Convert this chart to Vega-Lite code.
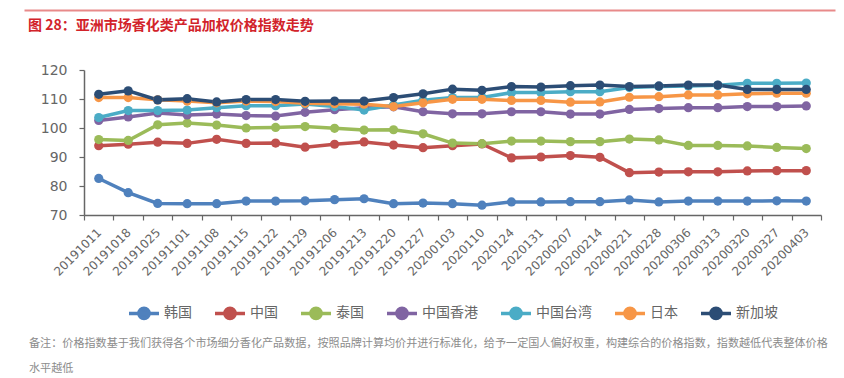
{
  "$schema": "https://vega.github.io/schema/vega-lite/v6.json",
  "background": "white",
  "autosize": {"type": "pad"},
  "padding": {"left": 28, "top": 10, "right": 5, "bottom": 3},
  "spacing": 30,
  "resolve": {"scale": {"color": "independent", "y": "independent", "x": "independent"}, "legend": {"color": "independent"}},
  "vconcat": [
    {
      "width": 751,
      "height": 1,
      "data": {"values": [{"k": 0.5}]},
      "mark": {"type": "point", "opacity": 0, "size": 0},
      "encoding": {
        "x": {
          "field": "k",
          "type": "quantitative",
          "scale": {"domain": [0, 1], "range": [-60, 751]},
          "axis": {"orient": "top", "domainColor": "#E88A8A", "domainWidth": 2, "ticks": false, "labels": false, "grid": false, "title": null}
        }
      },
      "title": {
        "text": "图 28：亚洲市场香化类产品加权价格指数走势",
        "orient": "bottom",
        "anchor": "start",
        "frame": "group",
        "dx": -56,
        "offset": 8,
        "font": "Noto Sans CJK SC",
        "fontSize": 14,
        "fontWeight": "bold",
        "color": "#D2232A"
      }
    },
    {
      "width": 737,
      "height": 145,
      "title": {
        "text": ["备注：价格指数基于我们获得各个市场细分香化产品数据，按照品牌计算均价并进行标准化，给予一定国人偏好权重，构建综合的价格指数，指数越低代表整体价格", "水平越低"],
        "orient": "bottom",
        "anchor": "start",
        "frame": "group",
        "dx": -55,
        "offset": 12,
        "font": "Noto Sans CJK SC",
        "fontSize": 11.1,
        "fontWeight": "normal",
        "color": "#8C8C8C",
        "lineHeight": 25
      },
      "data": {
        "values": [
          {"date": "20191011", "s": "韩国", "v": 82.6}, {"date": "20191018", "s": "韩国", "v": 77.7}, {"date": "20191025", "s": "韩国", "v": 74.0}, {"date": "20191101", "s": "韩国", "v": 73.9}, {"date": "20191108", "s": "韩国", "v": 73.9}, {"date": "20191115", "s": "韩国", "v": 74.8}, {"date": "20191122", "s": "韩国", "v": 74.8}, {"date": "20191129", "s": "韩国", "v": 74.9}, {"date": "20191206", "s": "韩国", "v": 75.3}, {"date": "20191213", "s": "韩国", "v": 75.6}, {"date": "20191220", "s": "韩国", "v": 73.9}, {"date": "20191227", "s": "韩国", "v": 74.1}, {"date": "20200103", "s": "韩国", "v": 73.9}, {"date": "2020110", "s": "韩国", "v": 73.4}, {"date": "2020124", "s": "韩国", "v": 74.5}, {"date": "2020131", "s": "韩国", "v": 74.5}, {"date": "20200207", "s": "韩国", "v": 74.6}, {"date": "20200214", "s": "韩国", "v": 74.6}, {"date": "20200221", "s": "韩国", "v": 75.2}, {"date": "20200228", "s": "韩国", "v": 74.5}, {"date": "20200306", "s": "韩国", "v": 74.8}, {"date": "20200313", "s": "韩国", "v": 74.8}, {"date": "20200320", "s": "韩国", "v": 74.8}, {"date": "20200327", "s": "韩国", "v": 74.9}, {"date": "20200403", "s": "韩国", "v": 74.8},
          {"date": "20191011", "s": "中国", "v": 93.9}, {"date": "20191018", "s": "中国", "v": 94.4}, {"date": "20191025", "s": "中国", "v": 95.1}, {"date": "20191101", "s": "中国", "v": 94.7}, {"date": "20191108", "s": "中国", "v": 96.1}, {"date": "20191115", "s": "中国", "v": 94.7}, {"date": "20191122", "s": "中国", "v": 94.8}, {"date": "20191129", "s": "中国", "v": 93.4}, {"date": "20191206", "s": "中国", "v": 94.4}, {"date": "20191213", "s": "中国", "v": 95.2}, {"date": "20191220", "s": "中国", "v": 94.1}, {"date": "20191227", "s": "中国", "v": 93.2}, {"date": "20200103", "s": "中国", "v": 93.9}, {"date": "2020110", "s": "中国", "v": 94.5}, {"date": "2020124", "s": "中国", "v": 89.7}, {"date": "2020131", "s": "中国", "v": 90.0}, {"date": "20200207", "s": "中国", "v": 90.5}, {"date": "20200214", "s": "中国", "v": 89.9}, {"date": "20200221", "s": "中国", "v": 84.6}, {"date": "20200228", "s": "中国", "v": 84.8}, {"date": "20200306", "s": "中国", "v": 84.9}, {"date": "20200313", "s": "中国", "v": 84.9}, {"date": "20200320", "s": "中国", "v": 85.2}, {"date": "20200327", "s": "中国", "v": 85.3}, {"date": "20200403", "s": "中国", "v": 85.3},
          {"date": "20191011", "s": "泰国", "v": 96.0}, {"date": "20191018", "s": "泰国", "v": 95.7}, {"date": "20191025", "s": "泰国", "v": 101.1}, {"date": "20191101", "s": "泰国", "v": 101.7}, {"date": "20191108", "s": "泰国", "v": 101.0}, {"date": "20191115", "s": "泰国", "v": 100.0}, {"date": "20191122", "s": "泰国", "v": 100.2}, {"date": "20191129", "s": "泰国", "v": 100.5}, {"date": "20191206", "s": "泰国", "v": 99.9}, {"date": "20191213", "s": "泰国", "v": 99.3}, {"date": "20191220", "s": "泰国", "v": 99.4}, {"date": "20191227", "s": "泰国", "v": 98.0}, {"date": "20200103", "s": "泰国", "v": 94.8}, {"date": "2020110", "s": "泰国", "v": 94.6}, {"date": "2020124", "s": "泰国", "v": 95.5}, {"date": "2020131", "s": "泰国", "v": 95.5}, {"date": "20200207", "s": "泰国", "v": 95.3}, {"date": "20200214", "s": "泰国", "v": 95.3}, {"date": "20200221", "s": "泰国", "v": 96.2}, {"date": "20200228", "s": "泰国", "v": 95.9}, {"date": "20200306", "s": "泰国", "v": 94.0}, {"date": "20200313", "s": "泰国", "v": 94.0}, {"date": "20200320", "s": "泰国", "v": 93.8}, {"date": "20200327", "s": "泰国", "v": 93.3}, {"date": "20200403", "s": "泰国", "v": 92.9},
          {"date": "20191011", "s": "中国香港", "v": 102.6}, {"date": "20191018", "s": "中国香港", "v": 103.8}, {"date": "20191025", "s": "中国香港", "v": 105.2}, {"date": "20191101", "s": "中国香港", "v": 104.5}, {"date": "20191108", "s": "中国香港", "v": 104.8}, {"date": "20191115", "s": "中国香港", "v": 104.3}, {"date": "20191122", "s": "中国香港", "v": 104.1}, {"date": "20191129", "s": "中国香港", "v": 105.4}, {"date": "20191206", "s": "中国香港", "v": 106.3}, {"date": "20191213", "s": "中国香港", "v": 107.0}, {"date": "20191220", "s": "中国香港", "v": 107.3}, {"date": "20191227", "s": "中国香港", "v": 105.6}, {"date": "20200103", "s": "中国香港", "v": 104.9}, {"date": "2020110", "s": "中国香港", "v": 104.9}, {"date": "2020124", "s": "中国香港", "v": 105.6}, {"date": "2020131", "s": "中国香港", "v": 105.6}, {"date": "20200207", "s": "中国香港", "v": 104.8}, {"date": "20200214", "s": "中国香港", "v": 104.8}, {"date": "20200221", "s": "中国香港", "v": 106.4}, {"date": "20200228", "s": "中国香港", "v": 106.7}, {"date": "20200306", "s": "中国香港", "v": 107.0}, {"date": "20200313", "s": "中国香港", "v": 107.0}, {"date": "20200320", "s": "中国香港", "v": 107.4}, {"date": "20200327", "s": "中国香港", "v": 107.4}, {"date": "20200403", "s": "中国香港", "v": 107.6},
          {"date": "20191011", "s": "中国台湾", "v": 103.6}, {"date": "20191018", "s": "中国台湾", "v": 106.0}, {"date": "20191025", "s": "中国台湾", "v": 106.0}, {"date": "20191101", "s": "中国台湾", "v": 106.2}, {"date": "20191108", "s": "中国台湾", "v": 107.0}, {"date": "20191115", "s": "中国台湾", "v": 107.7}, {"date": "20191122", "s": "中国台湾", "v": 107.7}, {"date": "20191129", "s": "中国台湾", "v": 108.3}, {"date": "20191206", "s": "中国台湾", "v": 107.4}, {"date": "20191213", "s": "中国台湾", "v": 106.2}, {"date": "20191220", "s": "中国台湾", "v": 107.9}, {"date": "20191227", "s": "中国台湾", "v": 109.6}, {"date": "20200103", "s": "中国台湾", "v": 110.5}, {"date": "2020110", "s": "中国台湾", "v": 110.5}, {"date": "2020124", "s": "中国台湾", "v": 112.2}, {"date": "2020131", "s": "中国台湾", "v": 112.2}, {"date": "20200207", "s": "中国台湾", "v": 112.5}, {"date": "20200214", "s": "中国台湾", "v": 112.5}, {"date": "20200221", "s": "中国台湾", "v": 114.0}, {"date": "20200228", "s": "中国台湾", "v": 114.3}, {"date": "20200306", "s": "中国台湾", "v": 114.5}, {"date": "20200313", "s": "中国台湾", "v": 114.7}, {"date": "20200320", "s": "中国台湾", "v": 115.4}, {"date": "20200327", "s": "中国台湾", "v": 115.4}, {"date": "20200403", "s": "中国台湾", "v": 115.5},
          {"date": "20191011", "s": "日本", "v": 110.5}, {"date": "20191018", "s": "日本", "v": 110.5}, {"date": "20191025", "s": "日本", "v": 109.7}, {"date": "20191101", "s": "日本", "v": 109.3}, {"date": "20191108", "s": "日本", "v": 108.7}, {"date": "20191115", "s": "日本", "v": 109.3}, {"date": "20191122", "s": "日本", "v": 109.1}, {"date": "20191129", "s": "日本", "v": 108.5}, {"date": "20191206", "s": "日本", "v": 108.4}, {"date": "20191213", "s": "日本", "v": 108.2}, {"date": "20191220", "s": "日本", "v": 107.4}, {"date": "20191227", "s": "日本", "v": 108.7}, {"date": "20200103", "s": "日本", "v": 109.9}, {"date": "2020110", "s": "日本", "v": 109.9}, {"date": "2020124", "s": "日本", "v": 109.5}, {"date": "2020131", "s": "日本", "v": 109.5}, {"date": "20200207", "s": "日本", "v": 108.9}, {"date": "20200214", "s": "日本", "v": 109.0}, {"date": "20200221", "s": "日本", "v": 110.6}, {"date": "20200228", "s": "日本", "v": 110.8}, {"date": "20200306", "s": "日本", "v": 111.4}, {"date": "20200313", "s": "日本", "v": 111.4}, {"date": "20200320", "s": "日本", "v": 111.8}, {"date": "20200327", "s": "日本", "v": 112.0}, {"date": "20200403", "s": "日本", "v": 112.0},
          {"date": "20191011", "s": "新加坡", "v": 111.6}, {"date": "20191018", "s": "新加坡", "v": 112.8}, {"date": "20191025", "s": "新加坡", "v": 109.7}, {"date": "20191101", "s": "新加坡", "v": 110.1}, {"date": "20191108", "s": "新加坡", "v": 109.0}, {"date": "20191115", "s": "新加坡", "v": 109.8}, {"date": "20191122", "s": "新加坡", "v": 109.8}, {"date": "20191129", "s": "新加坡", "v": 109.2}, {"date": "20191206", "s": "新加坡", "v": 109.3}, {"date": "20191213", "s": "新加坡", "v": 109.3}, {"date": "20191220", "s": "新加坡", "v": 110.5}, {"date": "20191227", "s": "新加坡", "v": 111.8}, {"date": "20200103", "s": "新加坡", "v": 113.4}, {"date": "2020110", "s": "新加坡", "v": 113.0}, {"date": "2020124", "s": "新加坡", "v": 114.3}, {"date": "2020131", "s": "新加坡", "v": 114.1}, {"date": "20200207", "s": "新加坡", "v": 114.6}, {"date": "20200214", "s": "新加坡", "v": 114.8}, {"date": "20200221", "s": "新加坡", "v": 114.3}, {"date": "20200228", "s": "新加坡", "v": 114.5}, {"date": "20200306", "s": "新加坡", "v": 114.8}, {"date": "20200313", "s": "新加坡", "v": 114.8}, {"date": "20200320", "s": "新加坡", "v": 113.3}, {"date": "20200327", "s": "新加坡", "v": 113.3}, {"date": "20200403", "s": "新加坡", "v": 113.3}
        ]
      },
      "encoding": {
        "x": {
          "field": "date",
          "type": "ordinal",
          "sort": null,
          "bandPosition": 0.5,
          "scale": {"type": "band", "paddingInner": 0, "paddingOuter": 0},
          "axis": {
            "title": null,
            "tickBand": "extent",
            "labelAngle": -45,
            "labelAlign": "right",
            "labelBaseline": "middle",
            "labelPadding": 10,
            "labelFont": "DejaVu Sans",
            "labelFontSize": 12,
            "labelColor": "#666666",
            "domainColor": "#666666",
            "domainWidth": 1.5,
            "tickColor": "#666666",
            "tickSize": 5,
            "tickWidth": 1.2,
            "grid": false
          }
        },
        "y": {
          "field": "v",
          "type": "quantitative",
          "scale": {"domain": [70, 120], "nice": false, "zero": false},
          "axis": {
            "title": null,
            "values": [70, 80, 90, 100, 110, 120],
            "labelFont": "DejaVu Sans",
            "labelFontSize": 14,
            "labelColor": "#666666",
            "labelPadding": 12,
            "domainColor": "#666666",
            "domainWidth": 1.5,
            "tickColor": "#666666",
            "tickSize": 5,
            "tickWidth": 1.2,
            "grid": false
          }
        },
        "color": {
          "field": "s",
          "type": "nominal",
          "sort": ["韩国", "中国", "泰国", "中国香港", "中国台湾", "日本", "新加坡"],
          "scale": {
            "domain": ["韩国", "中国", "泰国", "中国香港", "中国台湾", "日本", "新加坡"],
            "range": ["#4F81BD", "#C0504D", "#9BBB59", "#8064A2", "#4BACC6", "#F79646", "#2C4D75"]
          },
          "legend": {
            "title": null,
            "orient": "bottom",
            "direction": "horizontal",
            "offset": 18,
            "symbolType": "M-1,0L1,0M-0.34,0A0.34,0.34,0,1,1,0.34,0A0.34,0.34,0,1,1,-0.34,0Z",
            "symbolSize": 900,
            "symbolStrokeWidth": 3.5,
            "labelFont": "Noto Sans CJK SC",
            "labelFontSize": 14,
            "labelColor": "#666666",
            "labelOffset": 3,
            "columnPadding": 16,
            "encode": {
              "symbols": {
                "update": {
                  "fill": {"scale": "color", "field": "value"},
                  "stroke": {"scale": "color", "field": "value"}
                }
              }
            }
          }
        }
      },
      "layer": [
        {"mark": {"type": "line", "strokeWidth": 3.5}},
        {"mark": {"type": "point", "filled": true, "size": 85, "opacity": 1}}
      ]
    }
  ],
  "config": {
    "view": {"stroke": null},
    "legend": {"layout": {"bottom": {"anchor": "middle"}}}
  }
}
